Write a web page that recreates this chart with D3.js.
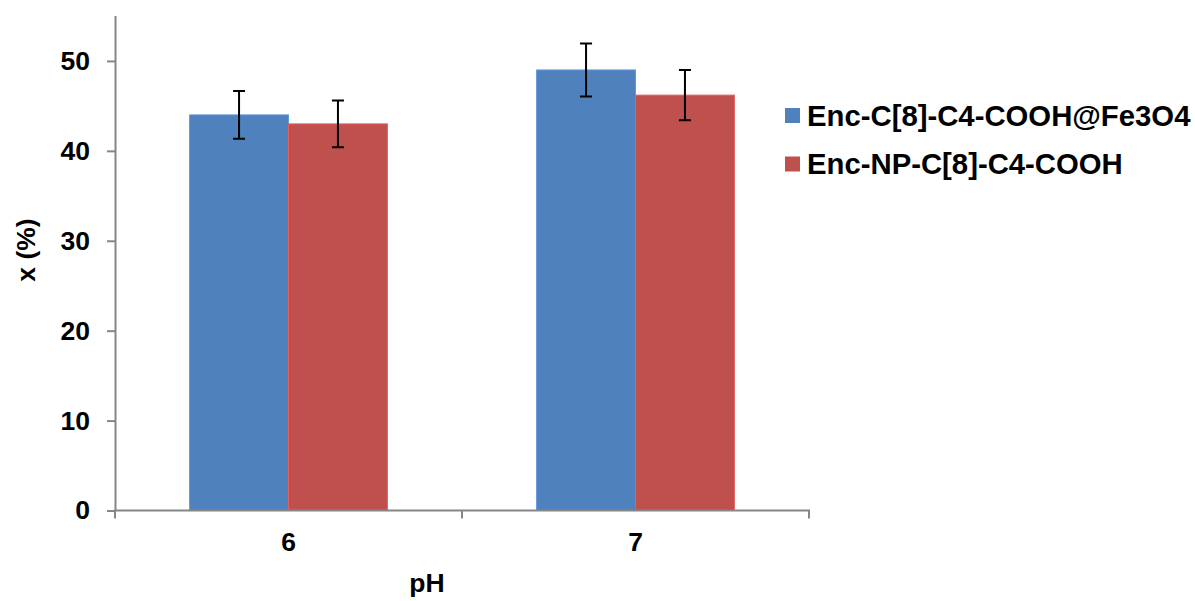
<!DOCTYPE html>
<html>
<head>
<meta charset="utf-8">
<script src="https://cdn.jsdelivr.net/npm/d3@7"></script>
<style>
  body { margin: 0; background: #fff; }
  text { font-family: "Liberation Sans", Arial, sans-serif; font-weight: bold; }
</style>
</head>
<body>
<svg id="chart" width="1195" height="601"></svg>
<script>
// data
var categories = ["6", "7"]
var seriesNames = ["Enc-C[8]-C4-COOH@Fe3O4", "Enc-NP-C[8]-C4-COOH"]
var seriesColors = ["#4F81BD", "#C0504D"]
var barValues = [[44, 49], [43, 46.2]]
var errValues = [[2.65, 2.95], [2.6, 2.8]]
var yTicks = [0, 10, 20, 30, 40, 50]

var dimensions = {
    width: 1195,
    height: 601,
    margin: { top: 16, bottom: 90.5, left: 115, right: 386 }
}

var svg = d3.select("#chart")

var xScale = d3.scaleBand()
    .domain(categories)
    .range([dimensions.margin.left, dimensions.width - dimensions.margin.right])
    .paddingInner(0.43)
    .paddingOuter(0.215)

var xSub = d3.scaleBand()
    .domain(d3.range(seriesNames.length))
    .range([0, xScale.bandwidth()])

var yScale = d3.scaleLinear()
    .domain([0, 55])
    .range([dimensions.height - dimensions.margin.bottom, dimensions.margin.top])

// flatten rows for bars
var rows = []
seriesNames.forEach(function (s, si) {
    categories.forEach(function (c, ci) {
        rows.push({ s: si, c: c, v: barValues[si][ci], e: errValues[si][ci] })
    })
})

svg.append("g")
    .selectAll("rect")
    .data(rows)
    .enter()
    .append("rect")
    .attr("x", d => xScale(d.c) + xSub(d.s))
    .attr("y", d => yScale(d.v))
    .attr("width", xSub.bandwidth())
    .attr("height", d => yScale(0) - yScale(d.v))
    .attr("fill", d => seriesColors[d.s])
    .attr("stroke", d => d3.color(seriesColors[d.s]).brighter(0.5))
    .attr("stroke-width", 1)

// axes
var axisColor = "#868686"
var yAxisGen = d3.axisLeft(yScale).tickValues(yTicks).tickSize(8).tickPadding(17)
var yAxis = svg.append("g")
    .attr("transform", `translate(${dimensions.margin.left},0)`)
    .call(yAxisGen)
yAxis.select(".domain").attr("stroke", axisColor).attr("stroke-width", 2)
    .attr("d", `M0.5,${yScale(55)}V${yScale(0)}`)
yAxis.selectAll(".tick line").attr("stroke", axisColor).attr("stroke-width", 2)
yAxis.selectAll(".tick text").attr("font-size", 26.5).attr("fill", "#000")
    .attr("font-family", "Liberation Sans, Arial, sans-serif").attr("font-weight", "bold")

var x0 = dimensions.margin.left, x1 = dimensions.width - dimensions.margin.right
var xAxis = svg.append("g")
xAxis.append("path")
    .attr("d", `M${x0},${yScale(0) + 8}V${yScale(0)}H${x1}V${yScale(0) + 8}M${(x0 + x1) / 2},${yScale(0)}V${yScale(0) + 8}`)
    .attr("fill", "none")
    .attr("stroke", axisColor)
    .attr("stroke-width", 2)
xAxis.selectAll("text")
    .data(categories)
    .enter()
    .append("text")
    .attr("x", d => xScale(d) + xScale.bandwidth() / 2)
    .attr("y", 550.5)
    .attr("text-anchor", "middle")
    .attr("font-size", 26.5)
    .text(d => d)

// error bars
var err = svg.append("g").attr("stroke", "#000").attr("stroke-width", 2).attr("fill", "none")
err.selectAll("path")
    .data(rows)
    .enter()
    .append("path")
    .attr("d", function (d) {
        var cx = xScale(d.c) + xSub(d.s) + xSub.bandwidth() / 2
        var top = yScale(d.v + d.e), bot = yScale(d.v - d.e)
        return `M${cx - 6},${top}H${cx + 6}M${cx},${top}V${bot}M${cx - 6},${bot}H${cx + 6}`
    })

// axis titles
svg.append("text")
    .attr("x", 427)
    .attr("y", 591.5)
    .attr("text-anchor", "middle")
    .attr("font-size", 26.5)
    .text("pH")

svg.append("text")
    .attr("transform", "translate(35,250) rotate(-90)")
    .attr("text-anchor", "middle")
    .attr("font-size", 26.5)
    .text("x (%)")

// legend
var legend = svg.append("g")
    .selectAll("g")
    .data(seriesNames)
    .enter()
    .append("g")
    .attr("transform", (d, i) => `translate(785,${108 + i * 48.5})`)
legend.append("rect")
    .attr("width", 15)
    .attr("height", 15)
    .attr("fill", (d, i) => seriesColors[i])
legend.append("text")
    .attr("x", 22)
    .attr("y", 17.5)
    .attr("font-size", 29.3)
    .text(d => d)
</script>
</body>
</html>
